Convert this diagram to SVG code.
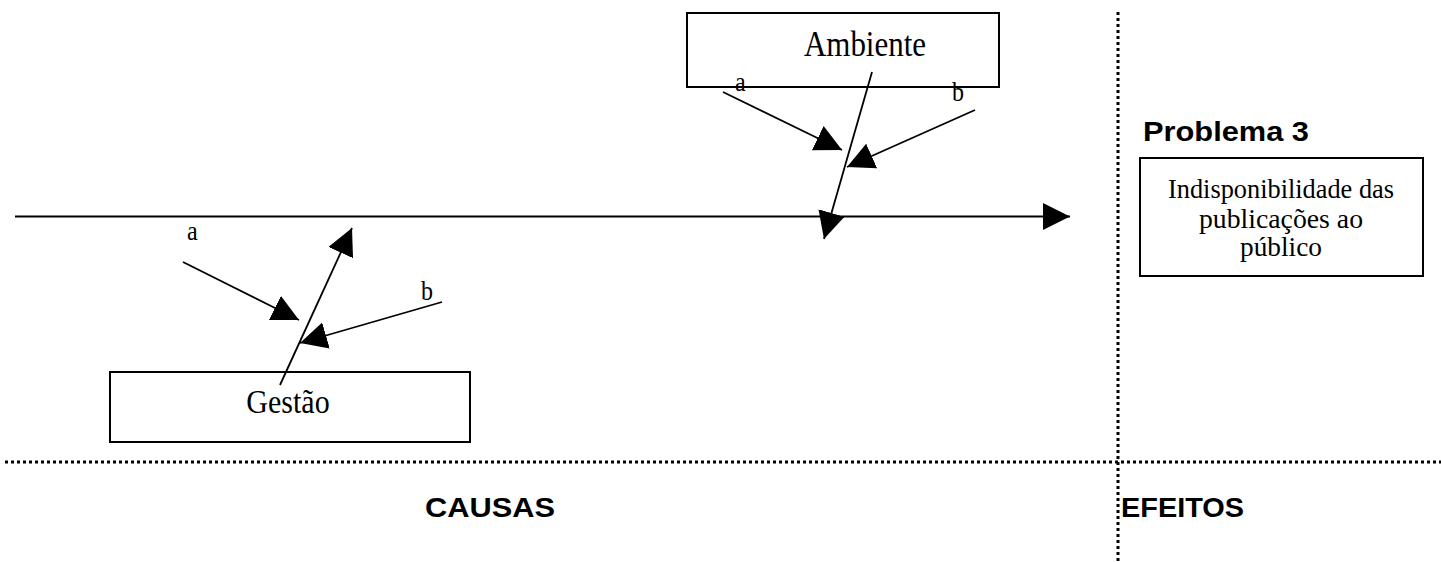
<svg xmlns="http://www.w3.org/2000/svg" width="1441" height="562" viewBox="0 0 1441 562">
<style>
.box{fill:none;stroke:#000;stroke-width:2}
.ln{stroke:#000;stroke-width:1.8;fill:none}
.main{stroke:#000;stroke-width:2.2;fill:none}
.dot{stroke:#000;stroke-width:3;stroke-dasharray:3 3;fill:none}
.t{font-family:"Liberation Serif","Times New Roman",serif;fill:#000}
.h{font-family:"Liberation Sans",Arial,sans-serif;font-weight:bold;fill:#000}
</style>
<defs>
<marker id="ah" markerUnits="userSpaceOnUse" markerWidth="28" markerHeight="28" refX="27" refY="13.5" orient="auto" viewBox="0 0 28 28">
<path d="M0,0 L27,13.5 L0,27 Z" fill="#000"/>
</marker>
</defs>
<rect width="1441" height="562" fill="#fff"/>
<g id="dividers">
<line class="dot" x1="5" y1="462" x2="1441" y2="462"/>
<line class="dot" x1="1118" y1="12" x2="1118" y2="562"/>
</g>
<g id="connectors">
<line class="main" x1="15" y1="216.5" x2="1070" y2="216.5" marker-end="url(#ah)"/>
<line class="ln" x1="872" y1="72" x2="824" y2="239" marker-end="url(#ah)"/>
<line class="ln" x1="723" y1="92" x2="842" y2="150" marker-end="url(#ah)"/>
<line class="ln" x1="975" y1="110" x2="847" y2="167" marker-end="url(#ah)"/>
<line class="ln" x1="280" y1="385" x2="352" y2="228" marker-end="url(#ah)"/>
<line class="ln" x1="183" y1="262" x2="299" y2="320" marker-end="url(#ah)"/>
<line class="ln" x1="442" y1="302" x2="300" y2="343" marker-end="url(#ah)"/>
</g>
<g id="ambiente">
<rect class="box" x="687" y="13" width="312" height="74"/>
<text class="t" transform="translate(865 56) scale(1 1.14)" font-size="31" text-anchor="middle">Ambiente</text>
</g>
<g id="gestao">
<rect class="box" x="110" y="372" width="360" height="70"/>
<text class="t" transform="translate(288 413) scale(1 1.15)" font-size="30" text-anchor="middle">Gestão</text>
</g>
<g id="labels">
<text class="t" transform="translate(735 91) scale(1 1.15)" font-size="24">a</text>
<text class="t" transform="translate(952 101) scale(1 1.15)" font-size="24">b</text>
<text class="t" transform="translate(187 240) scale(1 1.15)" font-size="24">a</text>
<text class="t" transform="translate(421 300) scale(1 1.15)" font-size="24">b</text>
</g>
<g id="problema">
<text class="h" x="1143" y="141" font-size="28" textLength="166" lengthAdjust="spacingAndGlyphs">Problema 3</text>
<rect class="box" x="1140" y="158" width="283" height="118"/>
<text class="t" transform="translate(1281 198) scale(1 1.15)" font-size="24" text-anchor="middle" textLength="226" lengthAdjust="spacingAndGlyphs">Indisponibilidade das</text>
<text class="t" transform="translate(1281 228) scale(1 1.15)" font-size="24" text-anchor="middle" textLength="164" lengthAdjust="spacingAndGlyphs">publicações ao</text>
<text class="t" transform="translate(1281 256) scale(1 1.15)" font-size="24" text-anchor="middle" textLength="82" lengthAdjust="spacingAndGlyphs">público</text>
</g>
<g id="sections">
<text class="h" x="425" y="517" font-size="28" textLength="130" lengthAdjust="spacingAndGlyphs">CAUSAS</text>
<text class="h" x="1121" y="517" font-size="28" textLength="123" lengthAdjust="spacingAndGlyphs">EFEITOS</text>
</g>
</svg>
